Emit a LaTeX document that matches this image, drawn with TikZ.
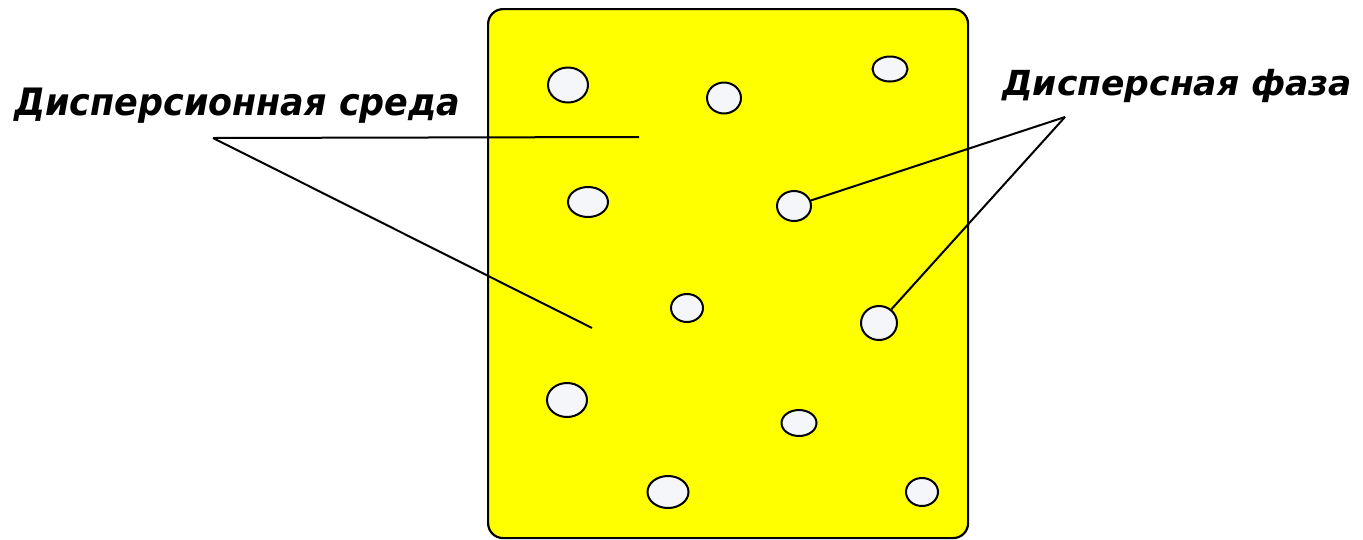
\documentclass[tikz,border=0pt]{standalone}
\usepackage{fontspec}
\setmainfont{DejaVu Sans}
\usetikzlibrary{shapes.geometric}

\definecolor{mediumyellow}{RGB}{255,255,0}
\definecolor{dropwhite}{RGB}{244,246,250}

\tikzset{
  pane/.style={draw=black, line width=2.2pt, fill=mediumyellow, rounded corners=15pt},
  drop/.style={ellipse, draw=black, line width=2pt, fill=dropwhite, inner sep=0pt},
  leader/.style={draw=black, line width=2pt},
  caption/.style={anchor=base west, inner sep=0pt, font=\bfseries\itshape\fontsize{30}{36}\selectfont}
}

\begin{document}
\begin{tikzpicture}[x=1pt, y=-1pt]
  \useasboundingbox (0,0) rectangle (1363,539);

  % dispersion medium
  \node[pane, minimum width=480pt, minimum height=529pt, anchor=north west] (medium) at (487,8) {};

  % dispersed particles
  \node[drop, minimum width=40pt, minimum height=35pt] (c1) at (568,85) {};
  \node[drop, minimum width=34pt, minimum height=31pt] (c2) at (724,98) {};
  \node[drop, minimum width=35pt, minimum height=25pt] (c3) at (890,69) {};
  \node[drop, minimum width=40pt, minimum height=30pt] (c4) at (588,202) {};
  \node[drop, minimum width=34pt, minimum height=30pt] (c5) at (794,206) {};
  \node[drop, minimum width=32pt, minimum height=28pt] (c6) at (687,308) {};
  \node[drop, minimum width=36pt, minimum height=34pt] (c7) at (879,323) {};
  \node[drop, minimum width=40pt, minimum height=34pt] (c8) at (567,400) {};
  \node[drop, minimum width=35pt, minimum height=26pt] (c9) at (799,423) {};
  \node[drop, minimum width=41pt, minimum height=32pt] (c10) at (668,492) {};
  \node[drop, minimum width=32pt, minimum height=28pt] (c11) at (922,492) {};

  % captions
  \node[caption] (medlabel) at (14,115) {\scalebox{1}[1.08]{\resizebox{446pt}{!}{Дисперсионная среда}}};
  \node[caption] (phaselabel) at (1002,95) {\resizebox{350pt}{!}{Дисперсная фаза}};

  % leader lines
  \coordinate (medapex) at (213,138);
  \coordinate (medend1) at (639,137);
  \coordinate (medend2) at (592,328);
  \coordinate (phaseapex) at (1065,117);

  \draw[leader] (medapex) -- (medend1);
  \draw[leader] (medapex) -- (medend2);
  \draw[leader] (phaseapex) -- (c5);
  \draw[leader] (phaseapex) -- (c7);
\end{tikzpicture}
\end{document}
